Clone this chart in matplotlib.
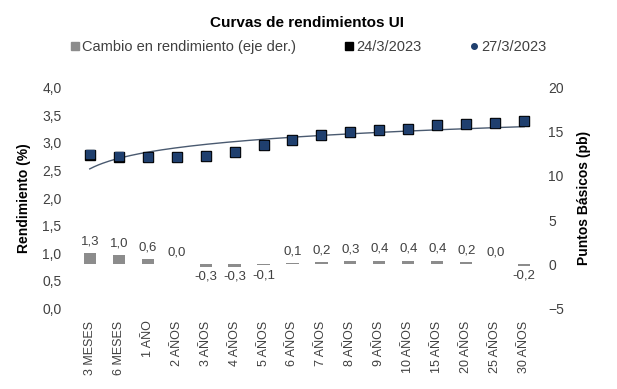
import numpy as np
import matplotlib.pyplot as plt
from matplotlib.lines import Line2D

plt.rcParams['font.family'] = ['Liberation Sans', 'DejaVu Sans']

# Datos
plazos = ['3 MESES', '6 MESES', '1 AÑO', '2 AÑOS', '3 AÑOS', '4 AÑOS', '5 AÑOS',
          '6 AÑOS', '7 AÑOS', '8 AÑOS', '9 AÑOS', '10 AÑOS', '15 AÑOS',
          '20 AÑOS', '25 AÑOS', '30 AÑOS']
rend_27 = [2.80, 2.76, 2.75, 2.75, 2.76, 2.84, 2.96, 3.05, 3.15, 3.20,
           3.24, 3.25, 3.33, 3.35, 3.36, 3.40]
cambio_pb = [1.3, 1.0, 0.6, 0.0, -0.3, -0.3, -0.1, 0.1, 0.2, 0.3,
             0.4, 0.4, 0.4, 0.2, 0.0, -0.2]
rend_24 = [r - c / 100 for r, c in zip(rend_27, cambio_pb)]

x = np.arange(len(plazos))

fig = plt.figure(figsize=(6.17, 3.89), dpi=100)
ax = fig.add_axes([0.122, 0.208, 0.751, 0.566])
ax2 = ax.twinx()

# Barras en el eje derecho
ax2.bar(x, cambio_pb, width=0.42, color='#8c8c8c', zorder=1)
for xi, c in zip(x, cambio_pb):
    txt = f'{c:.1f}'.replace('.', ',')
    if c >= 0:
        ax2.annotate(txt, (xi, c), xytext=(0, 4), textcoords='offset points',
                     ha='center', va='bottom', fontsize=9.5, color='#404040')
    else:
        ax2.annotate(txt, (xi, c), xytext=(0, -3), textcoords='offset points',
                     ha='center', va='top', fontsize=9.5, color='#404040')
ax2.set_ylim(-5, 20)
ax2.set_yticks([-5, 0, 5, 10, 15, 20])
ax2.set_ylabel('Puntos Básicos (pb)', fontsize=10, fontweight='bold', labelpad=9)

# Curvas en el eje izquierdo
ax.set_zorder(ax2.get_zorder() + 1)
ax.patch.set_visible(False)
ax.plot(x, rend_24, 's', color='black', ms=7.5, zorder=3)
ax.plot(x, rend_27, 's', color='#1f3f6e', ms=6, zorder=4)

# Línea de tendencia logarítmica
b, a = np.polyfit(np.log(x + 1), rend_27, 1)
xt = np.linspace(0, len(plazos) - 1, 200)
ax.plot(xt, a + b * np.log(xt + 1), color='#4a5a70', lw=1, zorder=2)

ax.set_ylim(0, 4)
ax.set_yticks(np.arange(0, 4.01, 0.5))
ax.set_yticklabels([f'{v:.1f}'.replace('.', ',') for v in np.arange(0, 4.01, 0.5)])
ax.set_xlim(-0.5, len(plazos) - 0.5)
ax.set_xticks(x)
ax.set_xticklabels(plazos, rotation=90)
ax.set_ylabel('Rendimiento (%)', fontsize=10, fontweight='bold', labelpad=8)

for a_ in (ax, ax2):
    for s in a_.spines.values():
        s.set_visible(False)
    a_.tick_params(length=0, labelsize=10, colors='#404040')
ax.tick_params(axis='x', labelsize=9, pad=9)
ax.tick_params(axis='y', pad=10)
ax2.tick_params(axis='y', pad=7)

fig.text(0.497, 0.94, 'Curvas de rendimientos UI', ha='center', va='center',
         fontsize=11, fontweight='bold')

handles = [
    Line2D([], [], marker='s', ls='', color='#8c8c8c', ms=6),
    Line2D([], [], marker='s', ls='', color='black', ms=6),
    Line2D([], [], marker='o', ls='', color='#1f3f6e', ms=4),
]
labels = ['Cambio en rendimiento (eje der.)', '24/3/2023', '27/3/2023']
fig.legend(handles, labels, loc='center', bbox_to_anchor=(0.5, 0.878), ncol=3,
           frameon=False, fontsize=10.5, handletextpad=0.2, columnspacing=3.3,
           handlelength=0.6, labelcolor='#404040')

fig.savefig('out.png', dpi=100)
